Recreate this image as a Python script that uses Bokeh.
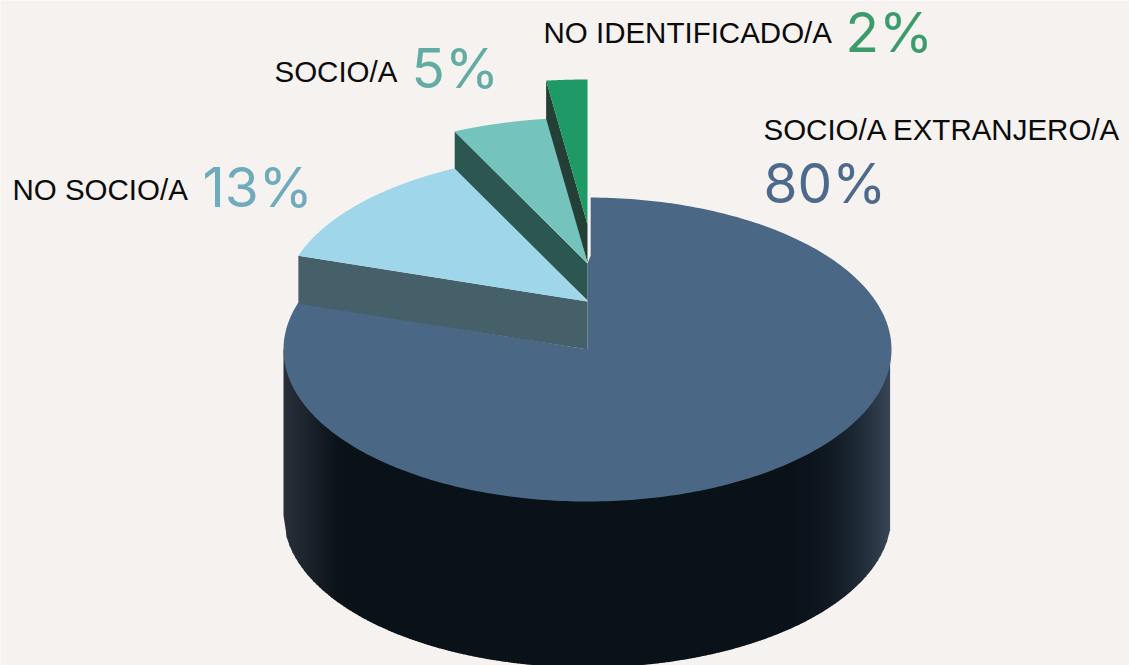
import numpy as np
from bokeh.plotting import figure
from bokeh.embed import file_html
from bokeh.resources import INLINE
from bokeh.core.properties import value

# ---- data ----
categories = ["SOCIO/A EXTRANJERO/A", "NO SOCIO/A", "SOCIO/A", "NO IDENTIFICADO/A"]
shares = [80, 13, 5, 2]
share_labels = ["80%", "13%", "5%", "2%"]

# ---- styling / layout ----
BG = "#f6f2ef"
top_colors = ["#4a6785", "#9fd6e9", "#75c3bd", "#1f9966"]
wall_colors = [None, "#456069", "#2c5650", "#243f35"]
pct_colors = ["#4d6a8c", "#6fabbd", "#63aca4", "#3b9c6b"]
# apex x, apex y, radius x, radius y, wall depth
geom = [(587, 349, 304, 152, 166),
        (587, 301, 304, 148, 48),
        (587, 263, 312, 146, 37),
        (587, 224, 330, 145, 38)]
name_pos = [(763, 129), (12, 189), (274, 71), (543, 32)]
pct_pos = [(763, 182), (202, 186), (411, 67), (845, 31)]
FONT = "Liberation Sans"
PCT_FONT = "Inter"

W, H = 1129, 665
p = figure(width=W, height=H, x_range=(0, W), y_range=(H, 0),
           output_backend="svg", toolbar_location=None, min_border=0,
           background_fill_color=BG, border_fill_color=BG, outline_line_color=None)
p.axis.visible = False
p.grid.visible = False


def rim(g, a0, a1, n=120):
    t = np.radians(np.linspace(a0, a1, n))
    return g[0] + g[2] * np.sin(t), g[1] - g[3] * np.cos(t)


# cylinder side, built from narrow strips so the edges can lighten
cx, cy, rx, ry, depth = geom[0]
edges = np.arange(cx - rx, cx + rx + 0.1, 3.0)
xs, ys, cols = [], [], []
dark = np.array([10, 18, 25])
left_edge = np.array([42, 49, 59])
right_edge = np.array([58, 72, 90])
for a, b in zip(edges[:-1], edges[1:]):
    m = (a + b) / 2
    if m < cx - rx + 55:
        f = 1 - (m - (cx - rx)) / 55
        c = dark + (left_edge - dark) * f
    elif m > cx + rx - 110:
        f = (m - (cx + rx - 110)) / 110
        c = dark + (right_edge - dark) * f ** 2.2
    else:
        c = dark
    low = lambda x: cy + depth + ry * np.sqrt(max(0.0, 1 - ((x - cx) / rx) ** 2))
    xs.append([a, b + 0.6, b + 0.6, a])
    ys.append([cy, cy, low(min(b + 0.6, cx + rx)), low(a)])
    cols.append("#%02x%02x%02x" % tuple(int(v) for v in c))
p.patches(xs, ys, fill_color=cols, line_color=None)

# slices, clockwise from twelve o'clock
angle = np.cumsum([0] + shares) / sum(shares) * 360.0
# main slice: its straight edge stands clear of the pulled-out slices near the rim only
x, y = rim(geom[0], 0.6, angle[1], 300)
p.patch(list(x) + [geom[0][0], geom[0][0], x[0]],
        list(y) + [geom[0][1], 263, 255],
        fill_color=top_colors[0], line_color=None)

# pulled-out slices: wall first, then top face
for i in range(1, 4):
    g = geom[i]
    x, y = rim(g, angle[i], angle[i + 1])
    p.patch([x[0], g[0], g[0], x[0]], [y[0], g[1], g[1] + g[4], y[0] + g[4]],
            fill_color=wall_colors[i], line_color=None)
    p.patch(list(x) + [g[0]], list(y) + [g[1]], fill_color=top_colors[i], line_color=None)

# texts
p.text([q[0] for q in name_pos], [q[1] for q in name_pos], text=categories,
       text_font=value(FONT), text_font_size="29.5px", text_color="#0b0b0b",
       text_align="left", text_baseline="middle")
p.text([q[0] for q in pct_pos], [q[1] for q in pct_pos], text=share_labels,
       text_font=value(PCT_FONT), text_font_size="55px", text_color=pct_colors,
       text_align="left", text_baseline="middle")

open("out.html", "w").write(file_html(p, INLINE))
